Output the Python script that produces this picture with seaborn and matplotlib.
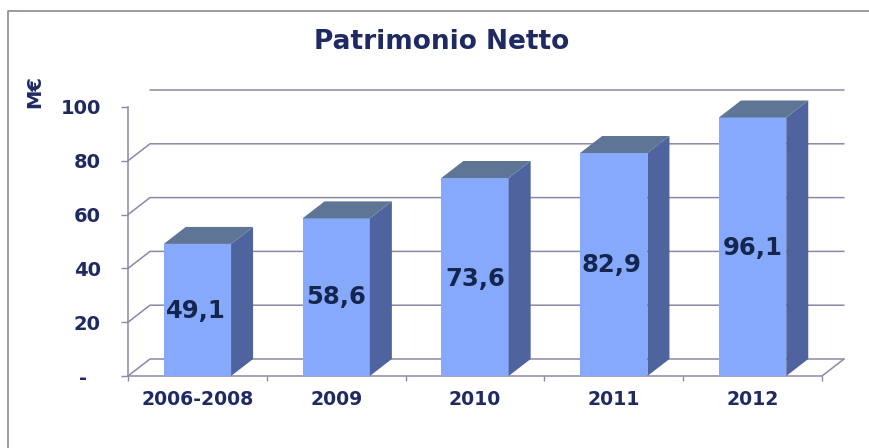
import matplotlib
matplotlib.use('Agg')
import matplotlib.pyplot as plt
from matplotlib.patches import Polygon
import pandas as pd
import seaborn as sns

periods = ['2006-2008', '2009', '2010', '2011', '2012']
values = [49.1, 58.6, 73.6, 82.9, 96.1]
value_labels = ['49,1', '58,6', '73,6', '82,9', '96,1']
y_ticks = [0, 20, 40, 60, 80, 100]
y_tick_labels = ['-  ', '20', '40', '60', '80', '100']

navy = '#1f2a63'
line_col = '#8f86a8'
front = '#86a9fb'
side = '#4f639f'
top = '#5f7596'
W, H = 869, 448
DX, DY = 22, 17   # depth of the fake 3d, in pixels

sns.set_theme(style='white')
plt.rcParams['font.family'] = ['DejaVu Sans']

fig = plt.figure(figsize=(W / 100, H / 100), dpi=100)
ax = fig.add_axes([128 / W, (H - 376) / H, 694 / W, 269 / H])

df = pd.DataFrame({'period': periods, 'value': values})
sns.barplot(data=df, x='period', y='value', color=front, saturation=1, width=0.485,
            linewidth=0, ax=ax, zorder=3)
ax.set_xlim(-0.5, 4.5)
ax.set_ylim(0, 100)

# pixel depth converted to data units
ux = DX / (694 / 5)
uy = DY / 2.69

# back wall and floor
for t in y_ticks:
    if t == 100:
        ax.plot([-0.5 + ux, 4.5 + ux], [t + uy, t + uy], color=line_col, lw=1.1, clip_on=False, zorder=1)
    else:
        ax.plot([-0.5, -0.5 + ux, 4.5 + ux], [t, t + uy, t + uy], color=line_col, lw=1.1, clip_on=False, zorder=1)
ax.plot([4.5, 4.5 + ux], [0, uy], color=line_col, lw=1.1, clip_on=False, zorder=1)

# side and top faces of each bar
for bar in ax.patches:
    x0, x1, h = bar.get_x(), bar.get_x() + bar.get_width(), bar.get_height()
    ax.add_patch(Polygon([(x1, 0), (x1 + ux, uy), (x1 + ux, h + uy), (x1, h)],
                         facecolor=side, edgecolor='none', clip_on=False, zorder=3))
    ax.add_patch(Polygon([(x0, h), (x0 + ux, h + uy), (x1 + ux, h + uy), (x1, h)],
                         facecolor=top, edgecolor='none', clip_on=False, zorder=3))

# the value labels sit by hand in the original, not at a fixed height
label_y = [24.2, 29.4, 36.1, 41.2, 47.6]
label_dx = [-0.01, 0, 0, -0.02, 0]
for i, lab in enumerate(value_labels):
    ax.text(i + label_dx[i], label_y[i], lab, ha='center', va='center', fontsize=17.5,
            fontweight='bold', color='#14264f', zorder=5)

sns.despine(ax=ax, top=True, right=True)
for s in ['left', 'bottom']:
    ax.spines[s].set_color(line_col)
    ax.spines[s].set_linewidth(1.1)
ax.set_yticks(y_ticks)
ax.set_yticklabels(y_tick_labels)
ax.set_xticks([-0.5, 0.5, 1.5, 2.5, 3.5, 4.5], labels=[''] * 6)
ax.tick_params(axis='x', length=3.5, width=1, color=line_col, bottom=True)
ax.tick_params(axis='y', length=5, width=1, color=line_col, left=True,
               labelsize=14, labelcolor=navy, pad=14.5)
for lab in ax.get_yticklabels():
    lab.set_fontweight('bold')
for i, p in enumerate(periods):
    ax.text(i, -8.7, p, ha='center', va='center', fontsize=13.6, fontweight='bold', color=navy)
ax.set_xlabel('')
ax.set_ylabel('')

fig.text(442 / W, 1 - 42 / H, 'Patrimonio Netto', ha='center', va='center', fontsize=19,
         fontweight='bold', color=navy)
fig.text(35 / W, 1 - 92 / H, 'M€', ha='center', va='center', rotation=90, fontsize=14,
         fontweight='bold', color=navy)

# outer frame, open on the right
fig.add_artist(plt.Line2D([8 / W, 8 / W, 1], [0, 1 - 11 / H, 1 - 11 / H], color='#8d8798', lw=1.2))

fig.savefig('out.png', dpi=100)
